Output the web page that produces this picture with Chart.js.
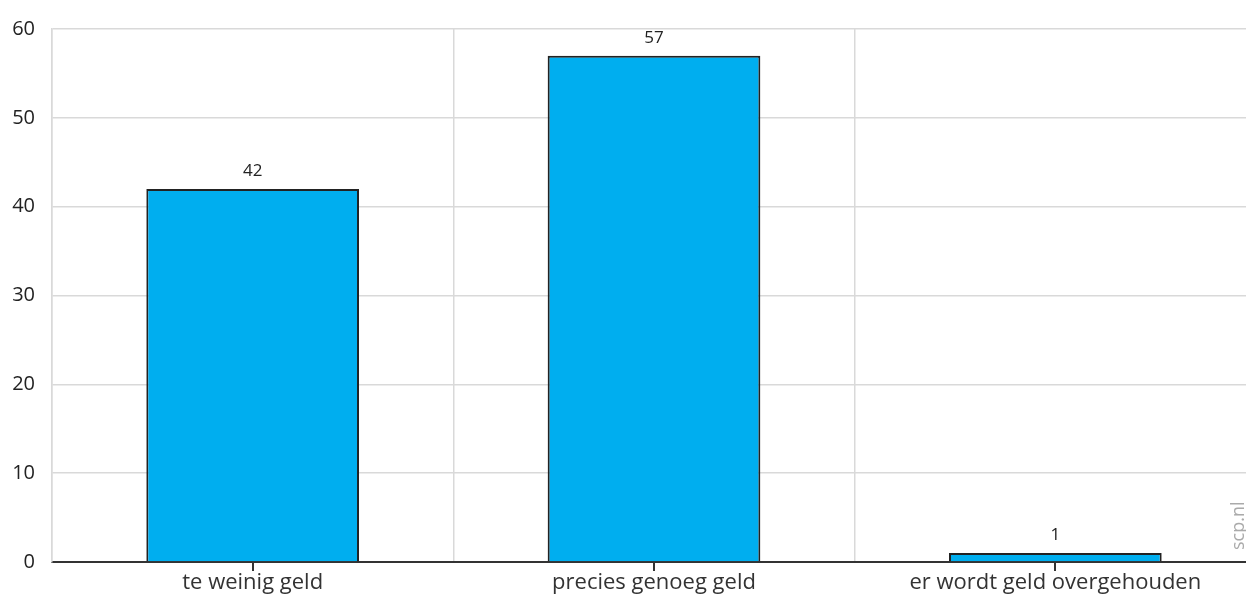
<!DOCTYPE html>
<html lang="nl">
<head>
  <meta charset="UTF-8">
  <title>Geld</title>
  <script src="https://cdn.jsdelivr.net/npm/chart.js"></script>
  <style>
    html, body {
      margin: 0;
      padding: 0;
      background: #fff;
      overflow: hidden;
    }
    #wrap {
      width: 1256px;
      height: 607px;
      position: relative;
    }
  </style>
</head>
<body>
  <div id="wrap"><canvas id="chart"></canvas></div>

  <script>
    // Gegevens
    const categories = ['te weinig geld', 'precies genoeg geld', 'er wordt geld overgehouden'];
    const values = [42, 57, 1];
    const yTicks = [0, 10, 20, 30, 40, 50, 60];

    const fontFamily = '"Open Sans", "Noto Sans", sans-serif';

    // Waarden boven de staven
    const valueLabels = {
      id: 'valueLabels',
      afterDatasetsDraw(chart) {
        const ctx = chart.ctx;
        const meta = chart.getDatasetMeta(0);
        ctx.save();
        ctx.fillStyle = '#222';
        ctx.font = '17px ' + fontFamily;
        ctx.textAlign = 'center';
        ctx.textBaseline = 'bottom';
        meta.data.forEach((bar, i) => {
          ctx.fillText(values[i], bar.x, bar.y - 9);
        });
        ctx.restore();
      }
    };

    // Streepjes onder de as, midden van elke categorie
    const centerTicks = {
      id: 'centerTicks',
      afterDraw(chart) {
        const ctx = chart.ctx;
        const x = chart.scales.x;
        const y0 = chart.chartArea.bottom;
        ctx.save();
        ctx.strokeStyle = '#333';
        ctx.lineWidth = 2;
        categories.forEach((c, i) => {
          const px = Math.round(x.getPixelForValue(i));
          ctx.beginPath();
          ctx.moveTo(px, y0);
          ctx.lineTo(px, y0 + 9);
          ctx.stroke();
        });
        // bronvermelding
        ctx.fillStyle = '#aaa';
        ctx.font = '18px ' + fontFamily;
        ctx.translate(1239, 550);
        ctx.rotate(-Math.PI / 2);
        ctx.textAlign = 'left';
        ctx.textBaseline = 'middle';
        ctx.fillText('scp.nl', 0, 0);
        ctx.restore();
      }
    };

    new Chart(document.getElementById('chart'), {
      type: 'bar',
      data: {
        labels: categories,
        datasets: [{
          data: values,
          backgroundColor: '#00aeef',
          borderColor: '#222',
          borderWidth: 2,
          barPercentage: 0.53,
          categoryPercentage: 1
        }]
      },
      options: {
        responsive: true,
        maintainAspectRatio: false,
        animation: false,
        layout: { padding: { top: 0, right: 0, left: 0, bottom: 0 } },
        plugins: {
          legend: { display: false },
          tooltip: { enabled: false }
        },
        scales: {
          x: {
            grid: {
              color: '#d9d9d9',
              lineWidth: 1.5,
              offset: true,
              drawTicks: false
            },
            border: { color: '#333', width: 2 },
            ticks: {
              color: '#333',
              padding: 8,
              font: { family: fontFamily, size: 22 },
              maxRotation: 0,
              autoSkip: false
            },
            afterFit(scale) { scale.height = 45; }
          },
          y: {
            min: 0,
            max: 60,
            afterBuildTicks(scale) {
              scale.ticks = yTicks.map(v => ({ value: v }));
            },
            grid: {
              color: '#d9d9d9',
              lineWidth: 1.5,
              drawTicks: false
            },
            border: { color: '#d9d9d9', width: 1.5 },
            ticks: {
              color: '#222',
              padding: 17,
              font: { family: fontFamily, size: 20 }
            },
            afterFit(scale) { scale.width = 52; }
          }
        }
      },
      plugins: [valueLabels, centerTicks]
    });
  </script>
</body>
</html>
